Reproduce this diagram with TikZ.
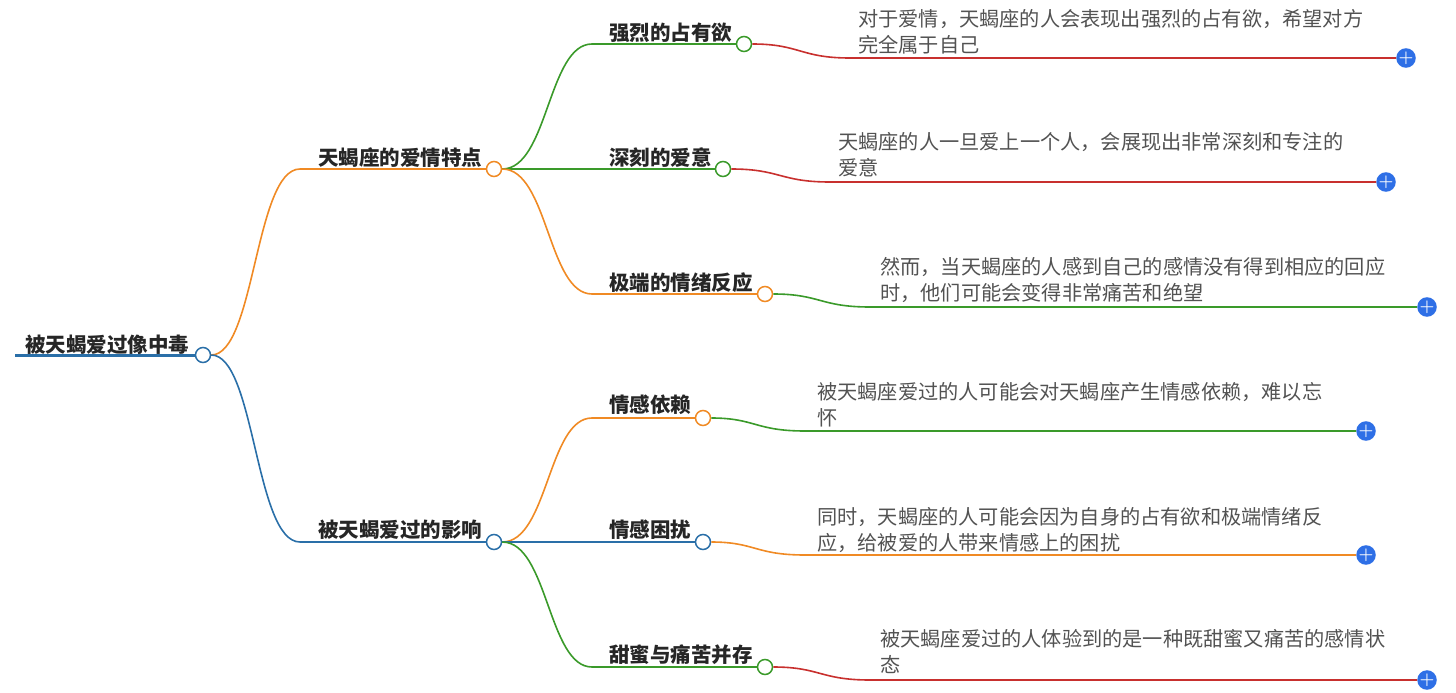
\documentclass[tikz,border=0pt]{standalone}
\usepackage{fontspec}
\newfontfamily\cjk{Noto Sans CJK SC}
\definecolor{cor}{HTML}{F08A24}
\definecolor{cbl}{HTML}{2A6FA8}
\definecolor{cgr}{HTML}{3A9A2A}
\definecolor{crd}{HTML}{C8302E}
\definecolor{cplus}{HTML}{2E6FE6}
\begin{document}
\begin{tikzpicture}[x=1pt,y=-1pt,
  lab/.style={font=\cjk\bfseries\fontsize{20.5}{22}\selectfont,text=black!85,anchor=west,inner sep=0},
  leaf/.style={font=\cjk\fontsize{20.2}{26}\selectfont,text=black!68,anchor=north west,inner sep=0,align=left},
  dot/.style={circle,draw,fill=white,line width=1.5pt,minimum size=15pt,inner sep=0},
  plus/.style={circle,fill=cplus,minimum size=19pt,inner sep=0,text=white,font=\bfseries\fontsize{17}{17}\selectfont},
  ln/.style={line width=1.6pt}]
\useasboundingbox (0,0) rectangle (1456,693);
% root
\node[lab] (rt) at (25,345) {被天蝎爱过像中毒};
\node[dot,draw=cbl] (r) at (203,355) {};
\draw[cbl,line width=3pt] (15,355) -- (r.west);
% branch 1
\node[lab] (b1t) at (318,158) {天蝎座的爱情特点};
\node[dot,draw=cor] (b1) at (494,169) {};
\coordinate (b1s) at (300,169);
\draw[cor,ln] (r.east) .. controls (255,355) and (255,169) .. (b1s) -- (b1.west);
% branch 2
\node[lab] (b2t) at (318,530) {被天蝎爱过的影响};
\node[dot,draw=cbl] (b2) at (494,542) {};
\coordinate (b2s) at (300,542);
\draw[cbl,ln] (r.east) .. controls (255,355) and (255,542) .. (b2s) -- (b2.west);
% c1
\node[lab] at (609,33) {强烈的占有欲};
\node[dot,draw=cgr] (c1) at (744,44) {};
\coordinate (c1s) at (592,44);
\draw[cgr,ln] (b1.east) .. controls (548,169) and (548,44) .. (c1s) -- (c1.west);
\node[leaf] at (858,9) {对于爱情，天蝎座的人会表现出强烈的占有欲，希望对方\\完全属于自己};
\node[plus] (p1) at (1406,58) {+};
\coordinate (l1) at (850,58);
\draw[crd,ln] (c1.east) .. controls (800,44) and (800,58) .. (l1) -- (p1.west);
% c2
\node[lab] at (609,158) {深刻的爱意};
\node[dot,draw=cgr] (c2) at (723,169) {};
\draw[cgr,ln] (b1.east) -- (c2.west);
\node[leaf] at (838,132) {天蝎座的人一旦爱上一个人，会展现出非常深刻和专注的\\爱意};
\node[plus] (p2) at (1386,182) {+};
\coordinate (l2) at (830,182);
\draw[crd,ln] (c2.east) .. controls (780,169) and (780,182) .. (l2) -- (p2.west);
% c3
\node[lab] at (609,283) {极端的情绪反应};
\node[dot,draw=cor] (c3) at (765,294) {};
\coordinate (c3s) at (592,294);
\draw[cor,ln] (b1.east) .. controls (548,169) and (548,294) .. (c3s) -- (c3.west);
\node[leaf] at (880,257) {然而，当天蝎座的人感到自己的感情没有得到相应的回应\\时，他们可能会变得非常痛苦和绝望};
\node[plus] (p3) at (1427,307) {+};
\coordinate (l3) at (870,307);
\draw[cgr,ln] (c3.east) .. controls (820,294) and (820,307) .. (l3) -- (p3.west);
% c4
\node[lab] at (609,405) {情感依赖};
\node[dot,draw=cor] (c4) at (703,418) {};
\coordinate (c4s) at (592,418);
\draw[cor,ln] (b2.east) .. controls (548,542) and (548,418) .. (c4s) -- (c4.west);
\node[leaf] at (817,382) {被天蝎座爱过的人可能会对天蝎座产生情感依赖，难以忘\\怀};
\node[plus] (p4) at (1366,431) {+};
\coordinate (l4) at (805,431);
\draw[cgr,ln] (c4.east) .. controls (755,418) and (755,431) .. (l4) -- (p4.west);
% c5
\node[lab] at (609,530) {情感困扰};
\node[dot,draw=cbl] (c5) at (703,542) {};
\draw[cbl,ln] (b2.east) -- (c5.west);
\node[leaf] at (817,507) {同时，天蝎座的人可能会因为自身的占有欲和极端情绪反\\应，给被爱的人带来情感上的困扰};
\node[plus] (p5) at (1366,555) {+};
\coordinate (l5) at (805,555);
\draw[cor,ln] (c5.east) .. controls (755,542) and (755,555) .. (l5) -- (p5.west);
% c6
\node[lab] at (609,655) {甜蜜与痛苦并存};
\node[dot,draw=cgr] (c6) at (765,667) {};
\coordinate (c6s) at (592,667);
\draw[cgr,ln] (b2.east) .. controls (548,542) and (548,667) .. (c6s) -- (c6.west);
\node[leaf] at (880,629) {被天蝎座爱过的人体验到的是一种既甜蜜又痛苦的感情状\\态};
\node[plus] (p6) at (1427,680) {+};
\coordinate (l6) at (870,680);
\draw[crd,ln] (c6.east) .. controls (820,667) and (820,680) .. (l6) -- (p6.west);
\end{tikzpicture}
\end{document}
